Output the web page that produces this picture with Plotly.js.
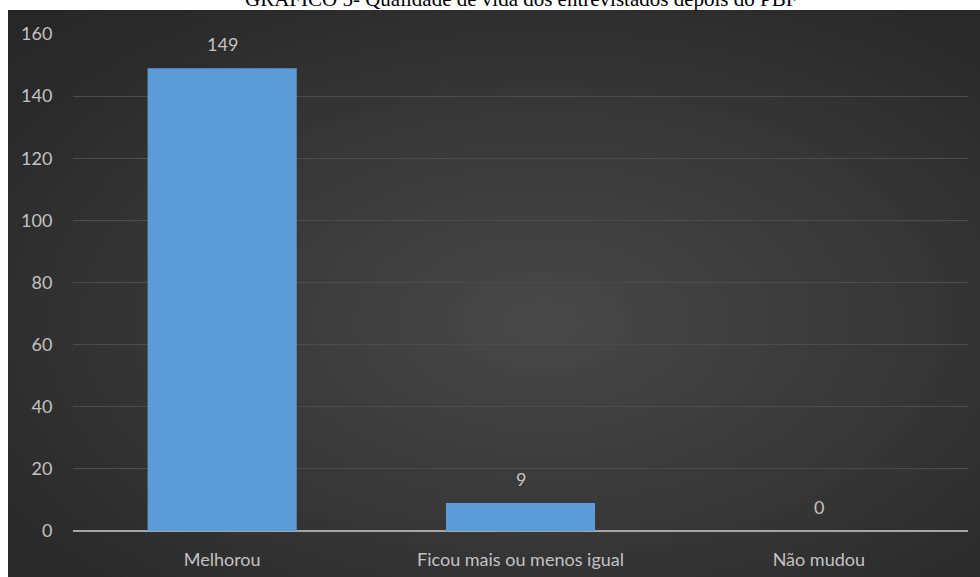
<!DOCTYPE html>
<html>
<head>
<meta charset="utf-8">
<script src="https://cdn.plot.ly/plotly-3.0.1.min.js"></script>
<style>
  html, body { margin: 0; padding: 0; background: #ffffff; }
  #wrap { position: relative; width: 980px; height: 577px; overflow: hidden; }
  #bg { position: absolute; left: 8px; top: 10px; width: 972px; height: 567px;
        background: radial-gradient(ellipse at 55% 55%, #484848 0%, #3a3a3a 40%, #2b2b2b 80%, #262626 100%); }
  #chart { position: absolute; left: 0; top: 0; width: 980px; height: 577px; }
</style>
</head>
<body>
<div id="wrap">
  <div id="bg"></div>
  <div id="chart"></div>
</div>
<script>
const categories = ["Melhorou", "Ficou mais ou menos igual", "Não mudou"];
const values = [149, 9, 0];
const titleText = "GRÁFICO 5- Qualidade de vida dos entrevistados depois do PBF";

const labelColor = "#c2c2c2";
const labelFont = "Lato, 'Open Sans', sans-serif";

const trace = {
  type: "bar",
  x: categories,
  y: values,
  marker: { color: "#5b9bd8", line: { width: 0 } },
  hoverinfo: "x+y"
};

const annotations = categories.map((c, i) => ({
  x: c, y: values[i], xref: "x", yref: "y",
  text: String(values[i]), showarrow: false,
  yanchor: "bottom", yshift: 11,
  font: { family: labelFont, size: 18, color: labelColor }
}));

annotations.push({
  xref: "paper", yref: "paper", x: 0.5, y: 1, yshift: 21,
  xanchor: "center", yanchor: "bottom",
  text: titleText, showarrow: false,
  font: { family: "'Liberation Serif', 'Times New Roman', serif", size: 21, color: "#000000" }
});

const layout = {
  width: 980, height: 577,
  margin: { l: 73, r: 12, t: 34, b: 46 },
  paper_bgcolor: "rgba(0,0,0,0)",
  plot_bgcolor: "rgba(0,0,0,0)",
  bargap: 0.5,
  showlegend: false,
  xaxis: {
    type: "category",
    showgrid: false,
    showline: false,
    zeroline: false,
    ticks: "outside", ticklen: 12, tickcolor: "rgba(0,0,0,0)",
    tickfont: { family: labelFont, size: 18, color: labelColor },
    fixedrange: true
  },
  yaxis: {
    range: [0, 160],
    dtick: 20,
    showgrid: true,
    gridcolor: "#4c4c4c",
    gridwidth: 1,
    zeroline: true,
    zerolinecolor: "#a6a6a6",
    zerolinewidth: 2,
    showline: false,
    ticks: "outside", ticklen: 16, tickcolor: "rgba(0,0,0,0)",
    tickfont: { family: labelFont, size: 18, color: labelColor },
    fixedrange: true
  },
  annotations: annotations
};

Plotly.newPlot("chart", [trace], layout, { displayModeBar: false, staticPlot: true });
</script>
</body>
</html>
